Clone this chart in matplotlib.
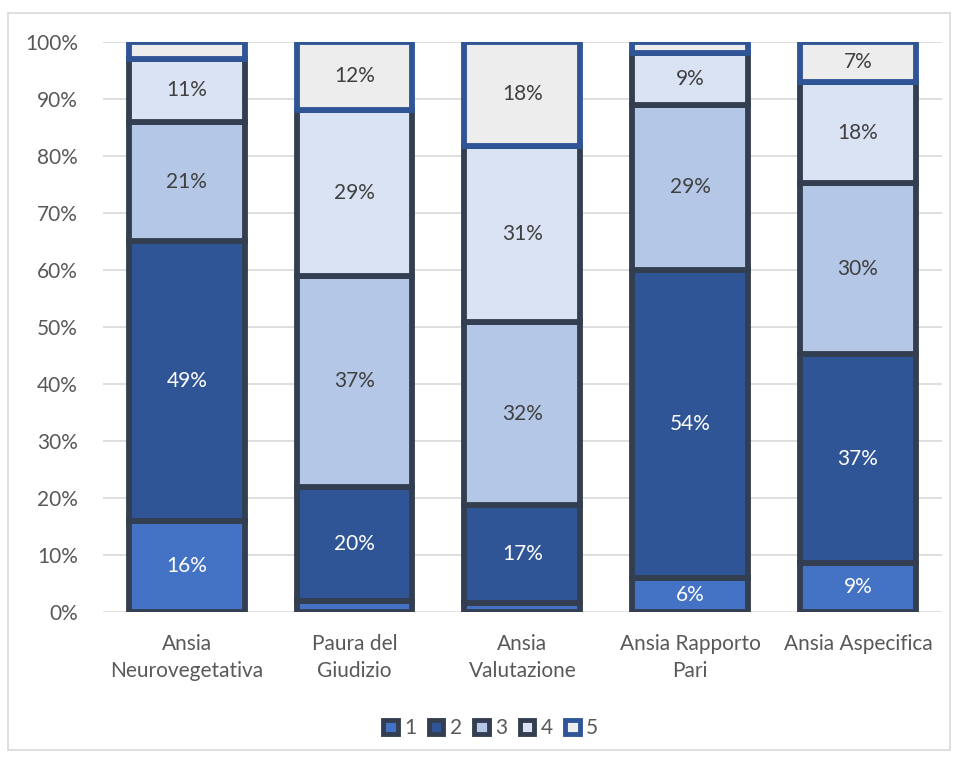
import matplotlib.pyplot as plt
import numpy as np
from matplotlib.patches import Rectangle

plt.rcParams['font.family'] = ['Lato', 'DejaVu Sans']

categories = ["Ansia\nNeurovegetativa", "Paura del\nGiudizio", "Ansia\nValutazione",
              "Ansia Rapporto\nPari", "Ansia Aspecifica"]
series_names = ["1", "2", "3", "4", "5"]
s1 = [16, 2, 1.5, 6, 8.6]
s2 = [49, 20, 17.3, 54, 36.6]
s3 = [21, 37, 32, 29, 30]
s4 = [11, 29, 31, 9, 17.8]
s5 = [3, 12, 18.2, 2, 7]
values = [s1, s2, s3, s4, s5]

fills = ['#4472C4', '#2F5597', '#B4C7E7', '#DAE3F3', '#EDEDED']
edges = ['#333F50', '#333F50', '#333F50', '#333F50', '#2F5597']
txtcol = ['white', 'white', '#404040', '#404040', '#404040']

fig = plt.figure(figsize=(9.62, 7.58), dpi=100)
fig.patches.append(Rectangle((8/962, 8/758), 942/962, 737/758, transform=fig.transFigure,
                             fill=False, edgecolor='#D9D9D9', linewidth=1.2))
ax = fig.add_axes([0.107, 0.1926, 0.872, 0.752])

x = np.arange(len(categories))
bottom = np.zeros(len(categories))
handles = []
for i, vals in enumerate(values):
    vals = np.array(vals, dtype=float)
    b = ax.bar(x, vals, 0.69, bottom=bottom, color=fills[i], edgecolor=edges[i],
               linewidth=4.2, label=series_names[i], zorder=3 + i)
    handles.append(b)
    for j, v in enumerate(vals):
        if v >= 5:
            ax.text(x[j], bottom[j] + v / 2, f"{round(v)}%", ha='center', va='center',
                    color=txtcol[i], fontsize=15, zorder=10)
    bottom += vals

ax.set_xlim(-0.5, 4.5)
ax.set_ylim(0, 100)
ax.set_yticks(np.arange(0, 101, 10))
ax.set_yticklabels([f"{t}%" for t in range(0, 101, 10)])
ax.set_xticks(x)
ax.set_xticklabels(categories, linespacing=1.4)
ax.tick_params(axis='both', length=0, labelsize=15, colors='#595959')
ax.tick_params(axis='y', pad=18)
ax.tick_params(axis='x', pad=16)
ax.yaxis.grid(True, color='#D9D9D9', linewidth=1.2, zorder=0)
ax.set_axisbelow(True)
for s in ax.spines.values():
    s.set_visible(False)

leg = fig.legend(handles=handles, loc='center', bbox_to_anchor=(0.51, 0.039), ncol=5,
                 frameon=False, fontsize=15, handlelength=0.7, handleheight=0.7,
                 handletextpad=0.3, columnspacing=0.6)
for t in leg.get_texts():
    t.set_color('#595959')
for p in leg.get_patches():
    p.set_linewidth(3.5)

fig.savefig('out.png', dpi=100)
